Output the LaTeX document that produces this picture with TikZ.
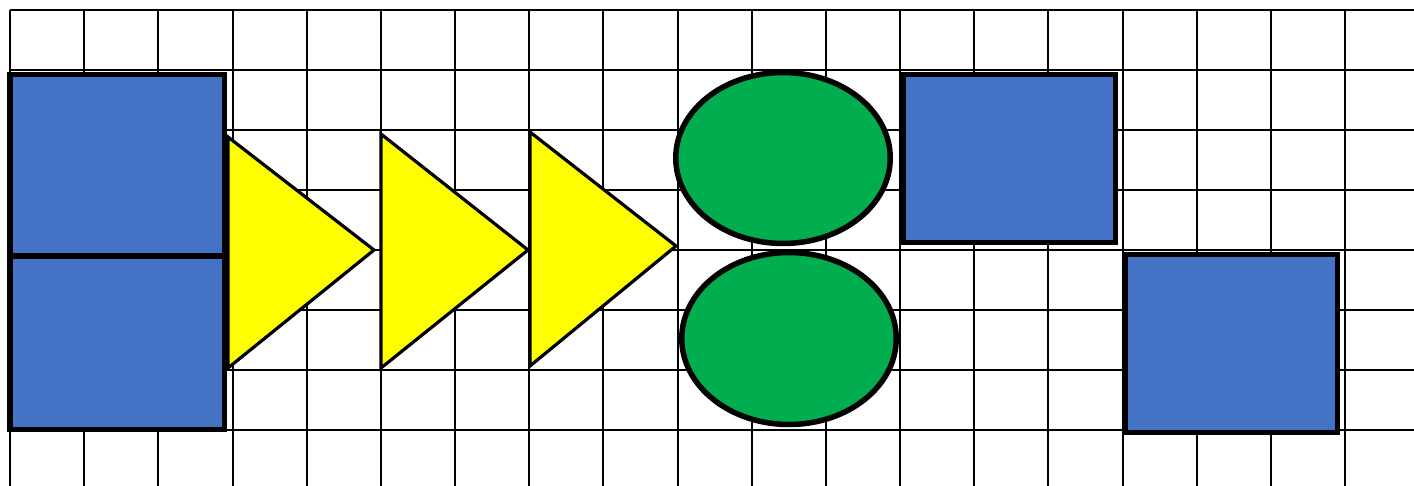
\documentclass[tikz,border=0pt]{standalone}
\usetikzlibrary{shapes.geometric}
\definecolor{boxblue}{HTML}{4472C4}
\definecolor{ovalgreen}{HTML}{00AD4F}
\definecolor{triyellow}{HTML}{FFFF00}
\begin{document}
\begin{tikzpicture}[x=1pt,y=-1pt,
  gridline/.style={line width=2pt,black},
  bluebox/.style={rectangle,draw=black,fill=boxblue,line width=5.5pt,inner sep=0pt,outer sep=0pt},
  greenoval/.style={ellipse,draw=black,fill=ovalgreen,line width=5.5pt,inner sep=0pt,outer sep=0pt},
  yellowtri/.style={draw=black,fill=triyellow,line width=3.2pt}]
\useasboundingbox (0,0) rectangle (1414,486);
\fill[white] (0,0) rectangle (1414,486);
% grid
\foreach \i in {0,...,18} {
  \draw[gridline] ({10+74.17*\i},10) -- ({10+74.17*\i},486);
}
\foreach \j in {0,...,7} {
  \draw[gridline] (10,{10+60*\j}) -- (1414,{10+60*\j});
}
% left stacked boxes
\node[bluebox,minimum width=214.5pt,minimum height=181.5pt] (lt) at (117,165.25) {};
\node[bluebox,minimum width=214.5pt,minimum height=173.5pt] (lb) at (117,342.75) {};
% triangles
\draw[yellowtri] (228,137) coordinate (t1a) -- (374,250) coordinate (t1b) -- (228,368) coordinate (t1c) -- cycle;
\draw[yellowtri] (381,134) coordinate (t2a) -- (528,250) coordinate (t2b) -- (381,368) coordinate (t2c) -- cycle;
\draw[yellowtri] (530,132) coordinate (t3a) -- (676,246) coordinate (t3b) -- (530,366) coordinate (t3c) -- cycle;
% ellipses
\node[greenoval,minimum width=214.5pt,minimum height=171pt] (e1) at (783,158) {};
\node[greenoval,minimum width=214.5pt,minimum height=172pt] (e2) at (789,338.5) {};
% right boxes
\node[bluebox,minimum width=212.5pt,minimum height=168pt] (rt) at (1009,158.5) {};
\node[bluebox,minimum width=212.5pt,minimum height=178pt] (rb) at (1231,343.5) {};
\end{tikzpicture}
\end{document}
